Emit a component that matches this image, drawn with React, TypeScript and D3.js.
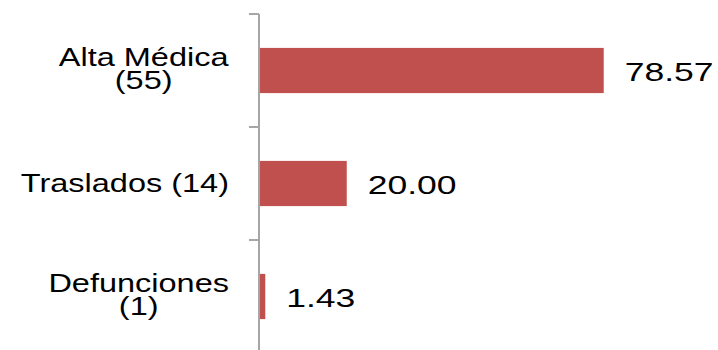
import React, { useEffect, useRef } from "react";
import * as d3 from "d3";

const categories: string[][] = [["Alta Médica", "(55)"], ["Traslados (14)"], ["Defunciones", "(1)"]];
const values: number[] = [78.57, 20.0, 1.43];
const valueLabels: string[] = ["78.57", "20.00", "1.43"];

const W = 718;
const H = 350;

export default function App() {
  const ref = useRef<SVGSVGElement>(null);

  useEffect(() => {
    const svg = d3.select(ref.current);
    svg.selectAll("*").remove();

    const x0 = 259;
    const x = d3.scaleLinear().domain([0, 80]).range([x0, 610]);
    const idx = categories.map((_, i) => i);
    const bandStart = 14;
    const y = d3.scaleBand<number>().domain(idx).range([bandStart, 353]).paddingInner(0.6).paddingOuter(0.3);
    const step = y.step();

    const font = "'Liberation Sans', Arial, sans-serif";
    const axisColor = "#a6a6a6";

    // bars
    svg
      .append("g")
      .selectAll("rect")
      .data(values)
      .join("rect")
      .attr("x", x(0))
      .attr("y", (_, i) => y(i)!)
      .attr("width", (d) => x(d) - x(0))
      .attr("height", y.bandwidth())
      .attr("fill", "#C0504D");

    // axis line
    svg
      .append("line")
      .attr("x1", x0)
      .attr("x2", x0)
      .attr("y1", bandStart)
      .attr("y2", H)
      .attr("stroke", axisColor)
      .attr("stroke-width", 2);

    // ticks at band boundaries
    const tickYs = d3.range(categories.length + 1).map((i) => bandStart + i * step);
    svg
      .append("g")
      .selectAll("line")
      .data(tickYs)
      .join("line")
      .attr("x1", x0 - 10)
      .attr("x2", x0)
      .attr("y1", (d) => d)
      .attr("y2", (d) => d)
      .attr("stroke", axisColor)
      .attr("stroke-width", 2);

    // category labels
    const labelScale = 1.3;
    const lineH = 23;
    const rightEdge = 229;
    categories.forEach((lines, i) => {
      const cy = y(i)! + y.bandwidth() / 2;
      const g = svg.append("g");
      const inner = g.append("g").attr("transform", `scale(${labelScale},1)`);
      const n = lines.length;
      const firstBaseline = cy - ((n - 1) * lineH) / 2 + 9 - (n > 1 ? 2 : 0);
      const text = inner
        .append("text")
        .attr("x", 0)
        .attr("y", firstBaseline)
        .attr("text-anchor", "middle")
        .attr("font-family", font)
        .attr("font-size", 25)
        .attr("fill", "#000");
      lines.forEach((t, j) => {
        text
          .append("tspan")
          .attr("x", 0)
          .attr("dy", j === 0 ? 0 : lineH)
          .text(t);
      });
      const bb = (inner.node() as SVGGElement).getBBox();
      const half = (bb.width * labelScale) / 2;
      g.attr("transform", `translate(${rightEdge - half},0)`);
    });

    // value labels
    const valScale = 1.42;
    values.forEach((v, i) => {
      const cy = y(i)! + y.bandwidth() / 2;
      const tx = x(v) + 21;
      svg
        .append("g")
        .attr("transform", `translate(${tx},${cy + 10.5}) scale(${valScale},1)`)
        .append("text")
        .attr("x", 0)
        .attr("y", 0)
        .attr("font-family", font)
        .attr("font-size", 25)
        .attr("fill", "#000")
        .text(valueLabels[i]);
    });
  }, []);

  return (
    <svg
      ref={ref}
      width={W}
      height={H}
      style={{ position: "absolute", left: 0, top: 0, background: "#fff", display: "block" }}
    />
  );
}
